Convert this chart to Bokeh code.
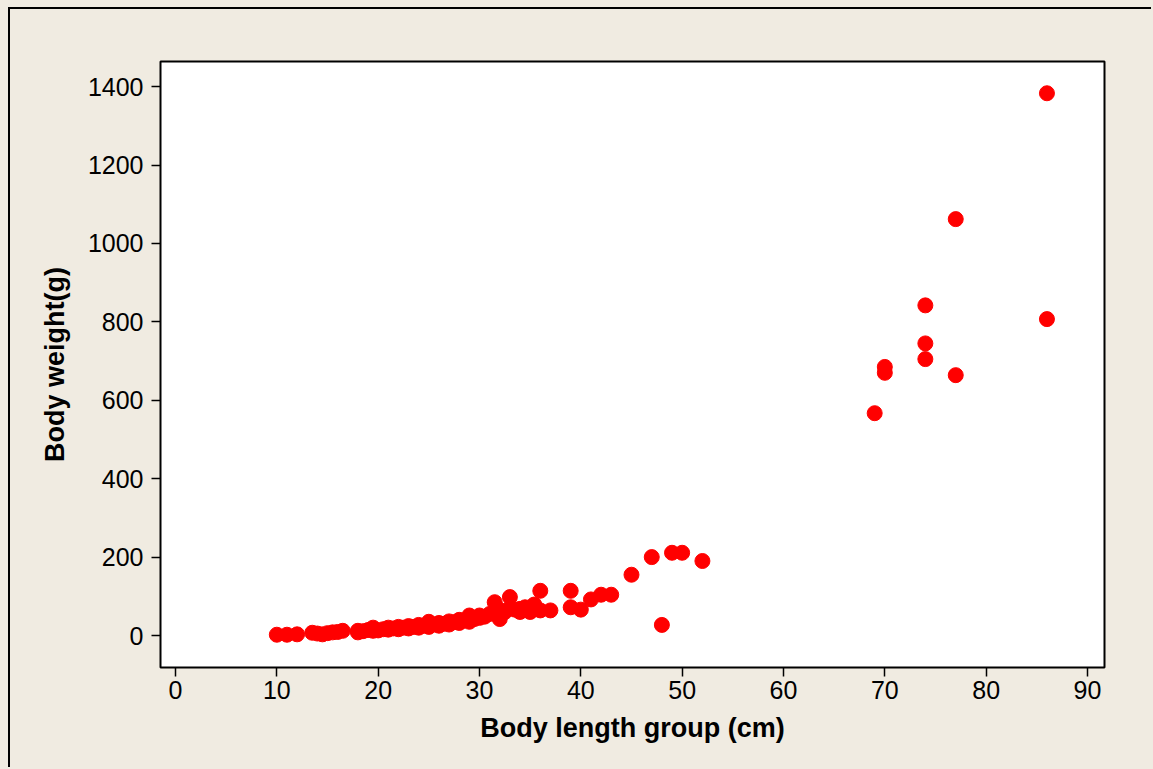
from bokeh.plotting import figure
from bokeh.models import Range1d, FixedTicker
from bokeh.layouts import column
from bokeh.embed import file_html
from bokeh.resources import INLINE

length_cm = [10, 11, 12, 13.5, 14, 14.5, 15, 15.5, 16, 16.5,
             18, 18, 18.5, 19, 19.5, 19.5, 20, 20.5, 21, 21, 21.5, 22, 22, 22.5,
             23, 23, 23.5, 24, 24, 24.5, 25, 25, 25.5, 26, 26, 26.5, 27, 27, 27.5,
             28, 28, 28.5, 29, 29, 29.5, 30, 30, 30.5, 31, 31.5, 31.5, 32, 32, 32.5,
             33, 33, 33.5, 34, 34, 34.5, 35, 35.4, 35.5, 36, 36, 37, 39, 39, 40,
             41, 42, 43, 45, 47, 48, 49, 50, 52, 69, 70, 70, 74, 74, 74, 77, 77, 86, 86]
weight_g = [2, 2, 3, 7, 5, 3, 6, 8, 9, 12,
            8, 12, 11, 14, 20, 12, 13, 16, 15, 20, 18, 16, 22, 20,
            18, 24, 22, 20, 27, 25, 22, 35, 28, 25, 32, 30, 28, 36, 34,
            32, 40, 38, 35, 51, 42, 45, 51, 48, 55, 85, 60, 42, 65, 60,
            98, 70, 66, 68, 60, 72, 60, 79, 68, 114, 64, 64, 114, 72, 66,
            92, 104, 104, 155, 200, 27, 211, 211, 190, 567, 685, 670, 842, 745, 705, 1062, 664, 1383, 807]

x_ticks = [0, 10, 20, 30, 40, 50, 60, 70, 80, 90]
y_ticks = [0, 200, 400, 600, 800, 1000, 1200, 1400]

BEIGE = "#F0EBE1"
FONT = "Liberation Sans"

p = figure(width=1143, height=760, output_backend="svg", toolbar_location=None,
           x_range=Range1d(-1.48, 91.68), y_range=Range1d(-81.6, 1464),
           min_border_left=150, min_border_right=49, min_border_top=52,
           min_border_bottom=102,
           background_fill_color="white", border_fill_color=BEIGE,
           x_axis_label="Body length group (cm)", y_axis_label="Body weight(g)")
p.margin = (7, 0, 0, 8)
p.styles = {"border-left": "2px solid black", "border-top": "2px solid black"}

p.scatter(length_cm, weight_g, size=15, color="#FF0000", line_color="#FF0000")

p.xgrid.grid_line_color = None
p.ygrid.grid_line_color = None
p.outline_line_color = "black"
p.outline_line_width = 2

p.xaxis.ticker = FixedTicker(ticks=x_ticks)
p.yaxis.ticker = FixedTicker(ticks=y_ticks)
for ax in (p.xaxis[0], p.yaxis[0]):
    ax.axis_line_color = None
    ax.major_tick_in = 0
    ax.major_tick_out = 9
    ax.major_tick_line_color = "black"
    ax.major_tick_line_width = 1.5
    ax.minor_tick_line_color = None
    ax.major_label_text_font = FONT
    ax.major_label_text_font_size = "25px"
    ax.major_label_text_color = "black"
    ax.axis_label_text_font = FONT
    ax.axis_label_text_font_size = "27px"
    ax.axis_label_text_font_style = "bold"
    ax.axis_label_text_color = "black"
p.xaxis.major_label_standoff = 4
p.yaxis.major_label_standoff = 8
p.xaxis.axis_label_standoff = 11
p.yaxis.axis_label_standoff = 15

layout = column(p, width=1153, height=769, styles={"background-color": BEIGE})

open("out.html", "w").write(file_html(layout, INLINE))
